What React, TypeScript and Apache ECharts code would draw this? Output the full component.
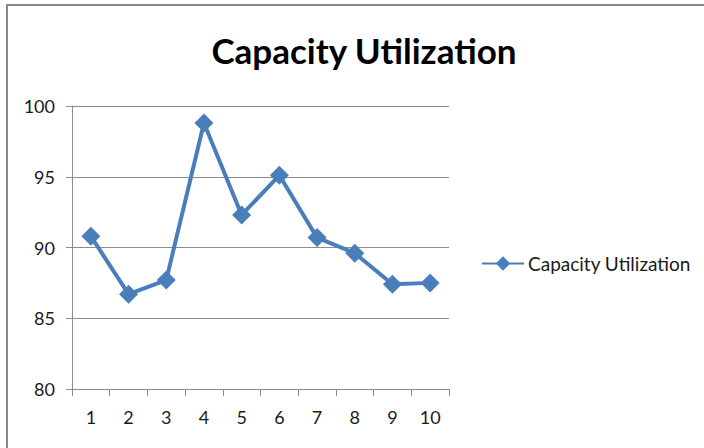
import React, { useEffect, useRef } from "react";
import * as echarts from "echarts";

const categories = ["1", "2", "3", "4", "5", "6", "7", "8", "9", "10"];
const utilization = [90.8, 86.7, 87.7, 98.8, 92.3, 95.1, 90.7, 89.6, 87.4, 87.5];
const seriesName = "Capacity Utilization";
const titleText = "Capacity Utilization";

const FONT = "Lato, 'Open Sans', sans-serif";

export default function App() {
  const ref = useRef<HTMLDivElement>(null);
  useEffect(() => {
    if (!ref.current) return;
    const chart = echarts.init(ref.current, undefined, { renderer: "svg" });
    chart.setOption({
      animation: false,
      backgroundColor: "#ffffff",
      title: {
        text: titleText,
        left: 359,
        top: 27,
        textAlign: "center",
        textStyle: { fontFamily: FONT, fontWeight: "bold", fontSize: 35, color: "#000000" },
      },
      legend: {
        data: [{ name: seriesName }],
        left: 481,
        top: 254,
        padding: 0,
        orient: "vertical",
        itemWidth: 42,
        itemHeight: 18,
        itemGap: 4,
        textStyle: { fontFamily: FONT, fontSize: 19, color: "#1a1a1a", padding: [0, 0, 0, -1] },
      },
      grid: { left: 72, right: 255, top: 106, bottom: 59, containLabel: false },
      xAxis: {
        type: "category",
        data: categories,
        boundaryGap: true,
        axisLine: { lineStyle: { color: "#8c8c8c", width: 1 } },
        axisTick: { show: true, length: 7, interval: 0, lineStyle: { color: "#8c8c8c" } },
        axisLabel: { fontFamily: FONT, fontSize: 18, color: "#1a1a1a", margin: 19 },
      },
      yAxis: {
        type: "value",
        min: 80,
        max: 100,
        interval: 5,
        axisLine: { show: true, lineStyle: { color: "#8c8c8c", width: 1 } },
        axisTick: { show: true, length: 6, lineStyle: { color: "#8c8c8c" } },
        splitLine: { show: true, lineStyle: { color: "#8c8c8c", width: 1 } },
        axisLabel: { fontFamily: FONT, fontSize: 18, color: "#1a1a1a", margin: 17 },
      },
      series: [
        {
          name: seriesName,
          type: "line",
          data: utilization,
          symbol: "diamond",
          symbolSize: 19,
          itemStyle: { color: "#4a7ebb" },
          lineStyle: { color: "#4a7ebb", width: 4 },
        },
      ],
      graphic: [
        { type: "rect", shape: { x: 6, y: 4, width: 720, height: 2 }, style: { fill: "#8a8a8a" }, silent: true },
        { type: "rect", shape: { x: 6, y: 4, width: 2, height: 460 }, style: { fill: "#8a8a8a" }, silent: true },
      ],
    });
    return () => chart.dispose();
  }, []);
  return (
    <div
      ref={ref}
      style={{ position: "absolute", left: 0, top: 0, width: 704, height: 448 }}
    />
  );
}
